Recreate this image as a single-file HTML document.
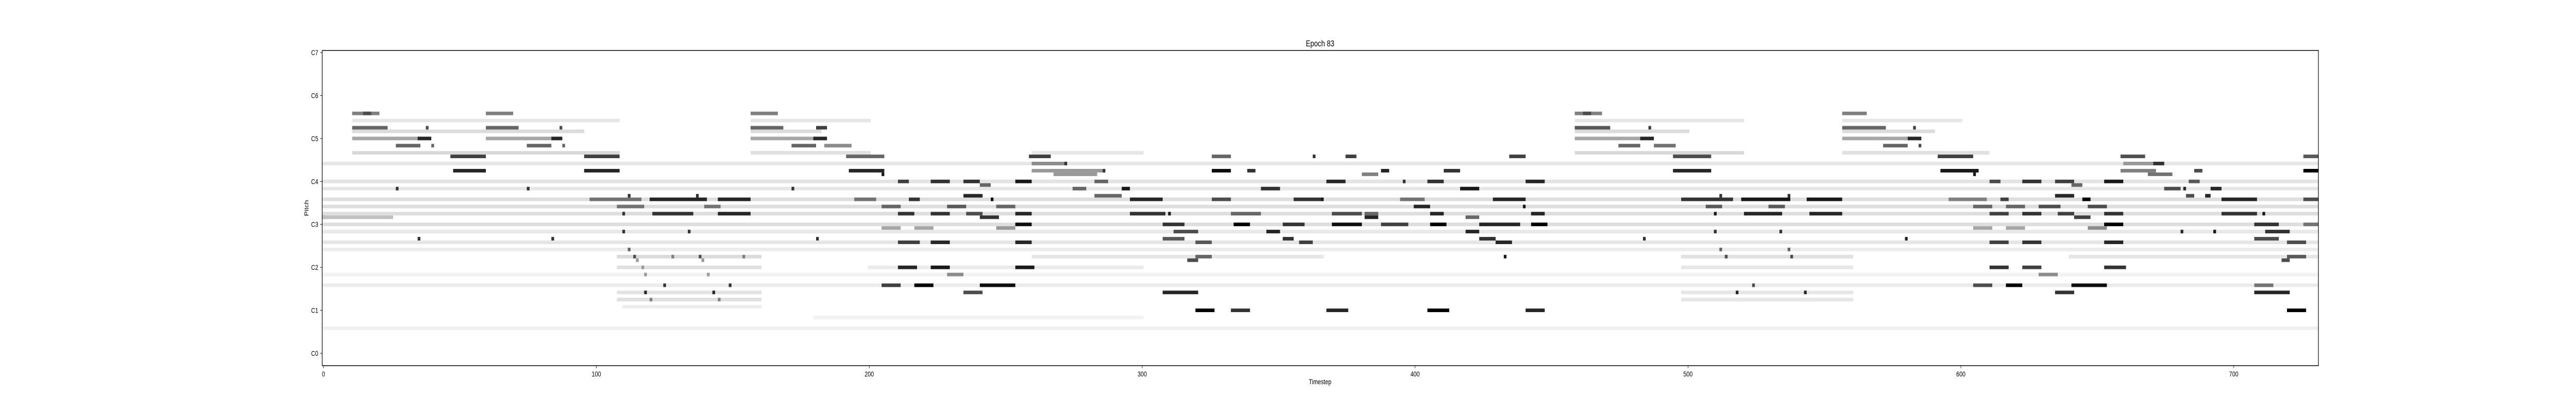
<!DOCTYPE html>
<html><head><meta charset="utf-8"><style>
html,body{margin:0;padding:0;background:#fff;overflow:hidden;width:100vw;height:100vh;}
svg{display:block;font-family:"Liberation Sans","DejaVu Sans",sans-serif;width:100vw;height:100vh;}
</style></head><body>
<svg id="chart" viewBox="0 0 6500 800" preserveAspectRatio="none" xmlns="http://www.w3.org/2000/svg">
<rect x="0" y="0" width="6500" height="800" fill="#fff"/>
<g id="cells"></g>
<rect x="813" y="98" width="5037" height="612" fill="none" stroke="#000" stroke-width="1.5"/>
<g id="yticks"></g>
<g id="xticks"></g>
<text x="3331" y="90" font-size="17" text-anchor="middle">Epoch 83</text>
<text x="3331" y="746" font-size="14" text-anchor="middle">Timestep</text>
<text x="0" y="0" font-size="14" text-anchor="middle" transform="translate(778,404) rotate(-90)">Pitch</text>
</svg>
<script>
// [startStep, endStep, pitch (semitones above C0), darkness 0..1]
const bgBands = [
[11,108,65,0.1],[157,200,65,0.1],[459,520,65,0.1],[557,600,65,0.1],
[11,95,62,0.14],[157,182,62,0.14],[459,500,62,0.14],[557,590,62,0.14],
[11,108,56,0.15],[157,200,56,0.12],[260,300,56,0.1],[459,520,56,0.15],[557,610,56,0.12],
[0,731,53,0.1],[0,731,48,0.11],[0,731,46,0.1],[0,731,43,0.13],[0,731,41,0.13],
[0,731,39,0.13],[0,731,36,0.13],[0,731,34,0.09],[0,731,31,0.1],[0,731,29,0.07],
[108,160,27,0.14],[260,366,27,0.1],[498,560,27,0.12],[640,731,27,0.1],
[108,160,24,0.12],[200,300,24,0.08],[498,560,24,0.1],
[0,731,22,0.05],[0,731,19,0.08],[108,160,17,0.11],[498,560,17,0.1],
[108,160,15,0.12],[498,560,15,0.1],[110,160,13,0.07],[0,731,7,0.06],[180,300,10,0.05]
];
const sectionANotes = [
[11,20,67,0.5],[15,17,67,0.7],[60,69,67,0.5],[157,166,67,0.5],
[11,23,63,0.6],[38,38,63,0.7],[60,71,63,0.6],[87,87,63,0.7],[157,168,63,0.6],[181,184,63,0.75],
[11,35,60,0.35],[35,39,60,0.85],[60,84,60,0.35],[84,87,60,0.85],[157,180,60,0.35],[180,184,60,0.85],
[27,35,58,0.6],[40,40,58,0.6],[75,83,58,0.6],[88,88,58,0.6],[172,180,58,0.6],[184,193,58,0.45],
[47,59,55,0.75],[96,108,55,0.75],[192,205,55,0.6],
[48,59,51,0.85],[96,108,51,0.85],[193,205,51,0.85],[205,205,50,0.9],
[27,27,46,0.8],[75,75,46,0.8],[172,172,46,0.8],
[112,112,44,0.8],[137,137,44,0.8],
[98,116,43,0.55],[120,140,43,0.85],[145,156,43,0.85],[195,202,43,0.5],
[108,117,41,0.55],[140,145,41,0.55],
[110,110,39,0.8],[121,135,39,0.8],[145,156,39,0.85],
[0,0,38,0.9],[0,25,38,0.25],
[110,110,34,0.8],[134,134,34,0.8],
[35,35,32,0.8],[84,84,32,0.8],[181,181,32,0.8],
[112,112,29,0.6],[114,114,27,0.7],[138,138,27,0.7],[128,128,27,0.5],[154,154,27,0.5],
[115,115,26,0.4],[139,139,26,0.4],[117,117,24,0.4],[118,118,22,0.4],[141,141,22,0.4],
[125,125,19,0.8],[149,149,19,0.8],[118,118,17,0.85],[143,143,17,0.85],[120,120,15,0.5],[145,145,15,0.5]
];
const sectionBNotes = [
[259,266,55,0.75],[326,332,55,0.6],[363,363,55,0.8],
[260,271,53,0.45],[272,272,53,0.8],
[260,285,51,0.4],[286,286,51,0.8],[326,332,51,0.95],[339,341,51,0.8],
[268,283,50,0.4],
[211,214,48,0.75],[223,229,48,0.8],[235,240,48,0.8],[254,259,48,0.9],[283,287,48,0.6],
[241,244,47,0.6],
[275,279,46,0.6],[293,295,46,0.9],[344,350,46,0.8],
[235,241,44,0.85],[283,292,44,0.6],
[195,202,43,0.55],[215,218,43,0.8],[245,245,43,0.95],[296,307,43,0.85],[326,332,43,0.7],[356,365,43,0.8],
[205,211,41,0.6],[229,235,41,0.65],[247,253,41,0.6],
[211,216,39,0.8],[223,229,39,0.8],[236,241,39,0.7],[254,259,39,0.85],[296,308,39,0.8],[310,310,39,0.9],[333,343,39,0.6],
[241,247,38,0.8],
[254,259,36,0.95],[308,315,36,0.8],[334,339,36,1.0],[352,359,36,0.8],
[205,211,35,0.35],[217,223,35,0.35],[247,253,35,0.4],
[312,320,34,0.7],[346,350,34,0.85],
[308,315,32,0.65],[352,355,32,0.8],
[211,218,31,0.75],[223,229,31,0.85],[254,259,31,0.85],[320,325,31,0.65],[358,362,31,0.75],
[320,325,27,0.6],[317,320,26,0.7],
[211,217,24,0.85],[223,229,24,0.9],[254,260,24,0.9],
[229,234,22,0.45],
[205,211,19,0.75],[217,223,19,1.0],[241,253,19,0.95],
[235,241,17,0.7],[308,320,17,0.85],
[320,326,12,1.0],[333,339,12,0.8]
];
const sectionCNotes = [
[375,378,55,0.75],[435,440,55,0.75],
[388,390,51,0.85],[411,416,51,0.8],[381,386,50,0.5],
[368,374,48,0.85],[396,396,48,0.8],[405,410,48,0.8],[441,447,48,0.85],
[417,423,46,0.9],
[366,366,43,0.9],[395,403,43,0.55],[429,440,43,0.85],
[400,405,41,0.85],[440,440,41,0.9],
[370,380,39,0.7],[382,386,39,0.6],[406,410,39,0.85],[443,447,39,0.85],
[382,386,38,0.85],[419,423,38,0.6],
[370,380,36,0.95],[388,397,36,0.75],[406,411,36,1.0],[424,438,36,0.85],[443,448,36,1.0],
[419,423,34,0.85],[424,429,32,0.8],[430,435,31,0.85],[433,433,27,0.9],
[368,375,12,0.85],[405,412,12,1.0],[441,447,12,0.85]
];
const sectionDNotes = [
[459,468,67,0.5],[462,464,67,0.7],[557,565,67,0.5],
[459,471,63,0.65],[486,486,63,0.75],[557,572,63,0.6],[583,583,63,0.75],
[459,483,60,0.35],[483,487,60,0.85],[557,580,60,0.35],[581,585,60,0.85],
[475,482,58,0.6],[488,495,58,0.55],[572,580,58,0.6],[585,585,58,0.7],
[495,508,55,0.7],[592,604,55,0.75],[659,667,55,0.7],[726,731,55,0.65],
[660,674,53,0.4],[671,674,53,0.8],
[495,508,51,0.85],[593,606,51,0.9],[659,671,51,0.5],[686,688,51,0.7],[726,731,51,1.0],
[605,605,50,0.9],[669,677,50,0.55],
[611,614,48,0.7],[623,629,48,0.8],[635,641,48,0.75],[653,659,48,0.9],[684,687,48,0.65],
[641,644,47,0.6],
[675,680,46,0.7],[682,682,46,0.85],[692,695,46,0.85],
[512,512,44,0.8],[537,537,44,0.8],[635,641,44,0.85],[683,685,44,0.7],[690,691,44,0.85],
[498,516,43,0.8],[520,537,43,0.9],[544,556,43,0.9],[596,609,43,0.5],[615,617,43,0.75],[645,647,43,1.0],[696,708,43,0.85],[726,731,43,0.7],
[507,512,41,0.65],[530,535,41,0.65],[605,611,41,0.6],[617,623,41,0.6],[629,636,41,0.7],[647,653,41,0.7],
[510,510,39,0.9],[521,534,39,0.85],[545,556,39,0.85],[611,617,39,0.75],[623,629,39,0.8],[636,641,39,0.75],[653,659,39,0.8],[696,708,39,0.8],[711,711,39,0.9],
[642,647,38,0.75],
[653,659,36,1.0],[708,716,36,0.8],[726,731,36,0.55],
[605,611,35,0.35],[617,623,35,0.35],[647,653,35,0.45],
[510,510,34,0.8],[534,534,34,0.8],[681,681,34,0.85],[693,693,34,0.9],[712,720,34,0.8],
[484,484,32,0.8],[580,580,32,0.85],[708,716,32,0.7],
[611,617,31,0.75],[623,629,31,0.8],[653,659,31,0.85],[720,726,31,0.7],
[512,512,29,0.6],[537,537,29,0.6],
[514,514,27,0.7],[538,538,27,0.7],[720,726,27,0.65],[718,720,26,0.7],
[611,617,24,0.8],[623,629,24,0.75],[653,660,24,0.8],
[629,635,22,0.45],
[524,524,19,0.7],[605,611,19,0.7],[617,622,19,1.0],[641,653,19,0.95],[708,714,19,0.55],
[518,518,17,0.85],[543,543,17,0.85],[635,641,17,0.8],[708,720,17,0.85],
[720,726,12,1.0]
];
const yTickLabels = ["C0","C1","C2","C3","C4","C5","C6","C7"];
const xTickValues = [0,100,200,300,400,500,600,700];

const X0 = 816.3, SX = 6.886, Y0 = 686, SY = 6.952;
function xScale(t){ return X0 + t*SX; }
function yScale(p){ return Y0 - p*SY; }
const NS = "http://www.w3.org/2000/svg";
const cells = document.getElementById('cells');
function drawSegs(arr, nm){
  arr.forEach(function(s){
    const r = document.createElementNS(NS,'rect');
    const x1 = Math.max(813, xScale(s[0]-0.5));
    const x2 = Math.min(5850, xScale(s[1]+0.5));
    const g = Math.round(255*(1-s[3]));
    r.setAttribute('x', x1);
    r.setAttribute('y', yScale(s[2]) - SY/2);
    r.setAttribute('width', Math.max(0, x2-x1));
    r.setAttribute('height', SY);
    r.setAttribute('fill', 'rgb('+g+','+g+','+g+')');
    
    
    cells.appendChild(r);
  });
}
drawSegs(bgBands, 'background-band');
drawSegs(sectionANotes, 'note-cell');
drawSegs(sectionBNotes, 'note-cell');
drawSegs(sectionCNotes, 'note-cell');
drawSegs(sectionDNotes, 'note-cell');

const yt = document.getElementById('yticks');
yTickLabels.forEach(function(lb, i){
  const y = yScale(i*12);
  const l = document.createElementNS(NS,'line');
  l.setAttribute('x1', 808); l.setAttribute('x2', 813);
  l.setAttribute('y1', y); l.setAttribute('y2', y);
  l.setAttribute('stroke', '#000');
  
  
  yt.appendChild(l);
  const t = document.createElementNS(NS,'text');
  t.setAttribute('x', 803); t.setAttribute('y', y+5);
  t.setAttribute('font-size', '14'); t.setAttribute('text-anchor', 'end');
  t.textContent = lb;
  
  
  yt.appendChild(t);
});
const xt = document.getElementById('xticks');
xTickValues.forEach(function(v){
  const x = xScale(v);
  const l = document.createElementNS(NS,'line');
  l.setAttribute('x1', x); l.setAttribute('x2', x);
  l.setAttribute('y1', 710); l.setAttribute('y2', 715);
  l.setAttribute('stroke', '#000');
  
  
  xt.appendChild(l);
  const t = document.createElementNS(NS,'text');
  t.setAttribute('x', x); t.setAttribute('y', 731);
  t.setAttribute('font-size', '14'); t.setAttribute('text-anchor', 'middle');
  t.textContent = v;
  
  
  xt.appendChild(t);
});
</script>
</body></html>
